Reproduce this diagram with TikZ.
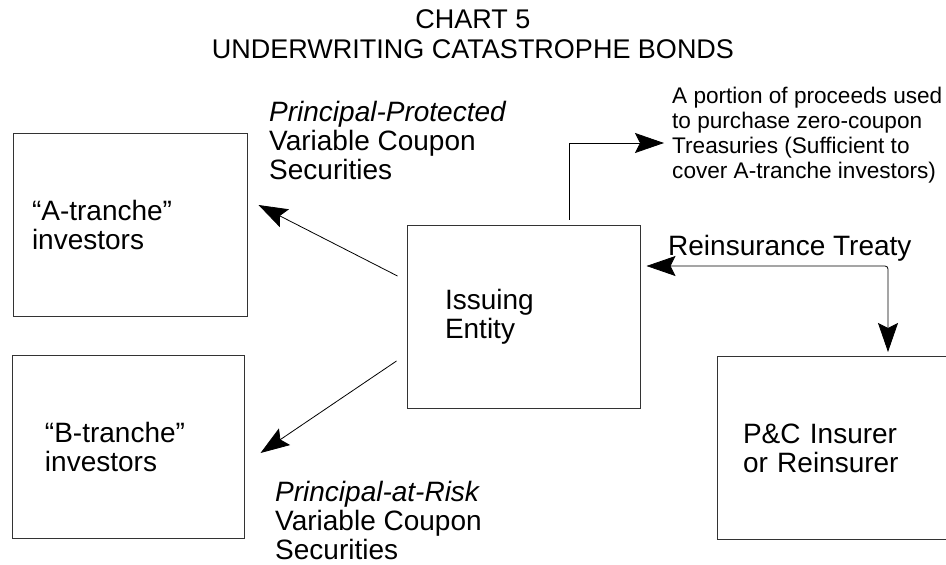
\documentclass[tikz,border=0pt]{standalone}
\usepackage{fontspec}
\setmainfont{Liberation Sans}
\usepackage{tikz}
\usetikzlibrary{arrows.meta, positioning, calc}
\newcommand{\cbtitle}{\fontsize{27pt}{30pt}\selectfont}
\newcommand{\cbbig}{\fontsize{28pt}{29pt}\selectfont}
\newcommand{\cbsmall}{\fontsize{22.6pt}{25pt}\selectfont}

\begin{document}
\begin{tikzpicture}[
    x=1pt, y=1pt,
    box/.style={rectangle, draw=black!80, line width=1pt,
                minimum width=234pt, minimum height=183pt, align=left, font=\cbbig},
    lbl/.style={inner sep=0pt, align=left, font=\cbbig},
    arr/.style={-{Stealth[length=29pt, width=20pt, inset=5pt]}, line width=0.8pt},
]
    \clip (0,0) rectangle (946,-565);

    % Title
    \node[lbl, align=center, font=\cbtitle, anchor=north] (title) at (473,-9)
        {CHART 5\\UNDERWRITING CATASTROPHE BONDS};

    % Boxes
    \node[box, inner xsep=19pt, text width=196pt] (atr) at (130,-225) {“A-tranche”\\investors};
    \node[box, inner xsep=33pt, text width=166pt, minimum width=232pt] (btr) at (128,-447) {“B-tranche”\\investors};
    \node[box, inner xsep=38pt, text width=157pt, minimum width=233pt] (issue) at (523.5,-316.5) {Issuing\\Entity};
    \node[box, inner xsep=26pt, text width=182pt] (pc) at (834,-448) {P\&C Insurer\\or Reinsurer};

    % Labels
    \node[lbl, anchor=north west] (protect) at (269,-101)
        {\textit{Principal-Protected}\\Variable Coupon\\Securities};
    \node[lbl, anchor=north west] (atrisk) at (275,-481)
        {\textit{Principal-at-Risk}\\Variable Coupon\\Securities};
    \node[lbl, anchor=north west, font=\cbsmall] (treas) at (672,-87)
        {A portion of proceeds used\\to purchase zero-coupon\\Treasuries (Sufficient to\\cover A-tranche investors)};
    \node[lbl, anchor=north west] (treaty) at (668,-235) {Reinsurance Treaty};
    \coordinate (treasin) at (664,-143);

    % Connections
    \draw[arr] ($(issue.west)+(-9,40.5)$) -- ($(atr.east)+(11,20)$);
    \draw[arr] ($(issue.west)+(-10,-44.5)$) -- ($(btr.east)+(16,-6)$);
    \draw[arr] ($(issue.north)+(45.5,5)$) |- (treasin);
    \draw[arr, {Stealth[length=29pt, width=20pt, inset=5pt]}-{Stealth[length=29pt, width=20pt, inset=5pt]}, rounded corners=3pt]
        ($(issue.east)+(6,50.5)$) -| ($(pc.north)+(54,4)$);
\end{tikzpicture}
\end{document}
